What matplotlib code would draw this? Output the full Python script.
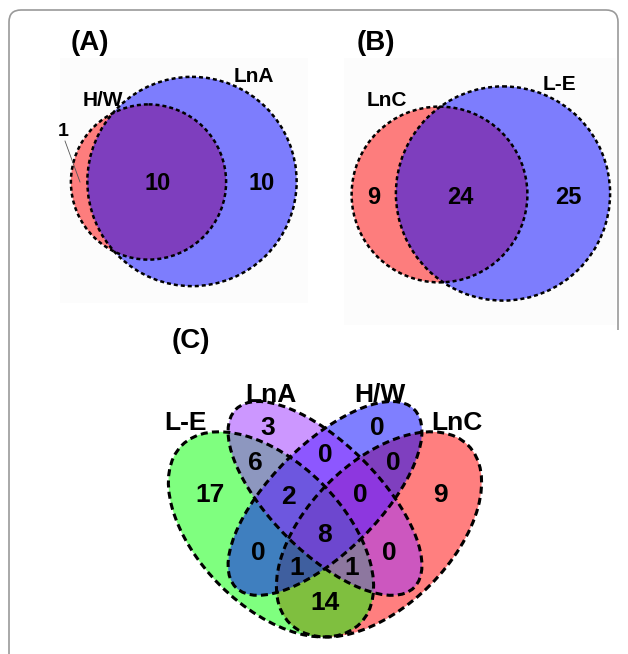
import numpy as np
import matplotlib.pyplot as plt
from matplotlib.patches import Circle, Ellipse, Rectangle, PathPatch
from matplotlib.path import Path

plt.rcParams['font.family'] = ['Liberation Sans', 'DejaVu Sans']

# (A) H/W vs LnA : only-first, both, only-second
a_names = ['H/W', 'LnA']
a_counts = [1, 10, 10]

# (B) LnC vs L-E
b_names = ['LnC', 'L-E']
b_counts = [9, 24, 25]

# (C) four sets, region key = membership in (L-E, LnA, H/W, LnC)
c_names = ['L-E', 'LnA', 'H/W', 'LnC']
c_regions = ['1000', '0100', '0010', '0001', '1100', '0011', '0110', '1110',
             '0111', '1111', '1010', '0101', '1011', '1101', '1001']
c_counts = [17, 3, 0, 9, 6, 0, 0, 2, 0, 8, 0, 0, 1, 1, 14]

RED = '#ff0000'
BLUE = '#0000ff'
GREEN = '#00ff00'
PURPLE = '#9b30ff'
DASH_AB = (0, (1.6, 1.2))
DASH_C = (0, (2.3, 1.4))

fig = plt.figure(figsize=(6.28, 6.54), dpi=100)
ax = fig.add_axes([0, 0, 1, 1])
ax.set_xlim(0, 628)
ax.set_ylim(654, 0)
ax.axis('off')

# outer frame (only top, left and the top of the right side show)
M, L, C3 = Path.MOVETO, Path.LINETO, Path.CURVE3
frame = Path([(618, 330), (618, 22), (618, 10), (606, 10), (21, 10), (9, 10), (9, 22), (9, 654)],
             [M, L, C3, C3, L, C3, C3, L])
ax.add_patch(PathPatch(frame, fill=False, edgecolor='#9a9a9a', lw=1.2))

# faint panel backgrounds
ax.add_patch(Rectangle((60, 58), 248, 245, color='#fcfcfc', lw=0))
ax.add_patch(Rectangle((344, 58), 272, 267, color='#fcfcfc', lw=0))


def two_venn(counts, names, centers, scale, colors, name_pos, num_pos, fs_num=17, fs_name=15):
    totals = [counts[0] + counts[1], counts[1] + counts[2]]
    radii = [scale * np.sqrt(t) for t in totals]
    for c, r, col in zip(centers, radii, colors):
        ax.add_patch(Circle(c, r, facecolor=col, alpha=0.5, lw=0))
    for c, r in zip(centers, radii):
        ax.add_patch(Circle(c, r, fill=False, edgecolor='black', lw=1.8, linestyle=DASH_AB))
    for n, p in zip(names, name_pos):
        ax.text(p[0], p[1], n, ha='center', va='center', fontsize=fs_name, fontweight='bold')
    for v, p in zip(counts, num_pos):
        if p is None:
            continue
        ax.text(p[0], p[1], str(v), ha='center', va='center', fontsize=fs_num, fontweight='bold')


# panel A
two_venn(a_counts, a_names, [(148.5, 182), (192, 181.5)], 23.4, [RED, BLUE],
         [(103, 100), (254, 76)], [None, (158, 183), (262, 183)])
ax.text(63, 131, str(a_counts[0]), ha='center', va='center', fontsize=14, fontweight='bold')
ax.plot([65, 80], [141, 182], color='#555555', lw=0.6)

# panel B
two_venn(b_counts, b_names, [(439.5, 194.5), (503, 193.5)], 15.3, [RED, BLUE],
         [(387, 100), (559, 85)], [(374, 197), (460, 197), (568, 197)])

# panel C: classic four-ellipse layout, unit square mapped to pixels
S = 360.0


def px(ux, uy):
    return 325 + (ux - 0.5) * S, 637 - (uy - 0.185) * S


c_shapes = {
    'L-E': ((0.35, 0.47), 0.35, 0.20, 45, GREEN),
    'LnA': ((0.50, 0.57), 0.35, 0.15, 45, PURPLE),
    'H/W': ((0.50, 0.57), 0.35, 0.15, 135, BLUE),
    'LnC': ((0.65, 0.47), 0.35, 0.20, 135, RED),
}
draw_order = ['LnC', 'L-E', 'H/W', 'LnA']
for n in draw_order:
    (ux, uy), a, b, ang, col = c_shapes[n]
    ax.add_patch(Ellipse(px(ux, uy), 2 * a * S, 2 * b * S, angle=ang, facecolor=col, alpha=0.5, lw=0))
for n in draw_order:
    (ux, uy), a, b, ang, col = c_shapes[n]
    ax.add_patch(Ellipse(px(ux, uy), 2 * a * S, 2 * b * S, angle=ang, fill=False,
                         edgecolor='black', lw=2.2, linestyle=DASH_C))

c_label_pos = {
    '1000': (210, 495), '0100': (268, 428), '0010': (377, 428), '0001': (440, 495),
    '1100': (255, 463), '0011': (393, 463), '0110': (325, 455), '1110': (288, 497),
    '0111': (360, 495), '1111': (325, 535), '1010': (258, 553), '0101': (389, 553),
    '1011': (297, 568), '1101': (352, 568), '1001': (325, 603),
}
for reg, v in zip(c_regions, c_counts):
    x, y = c_label_pos[reg]
    ax.text(x, y, str(v), ha='center', va='center', fontsize=19, fontweight='bold')

c_name_pos = {'L-E': (186, 423), 'LnA': (271, 395), 'H/W': (380, 395), 'LnC': (457, 423)}
for n in c_names:
    x, y = c_name_pos[n]
    ax.text(x, y, n, ha='center', va='center', fontsize=19, fontweight='bold')

# panel tags
for tag, pos in zip(['(A)', '(B)', '(C)'], [(90, 43), (376, 43), (191, 341)]):
    ax.text(pos[0], pos[1], tag, ha='center', va='center', fontsize=20, fontweight='bold')

fig.savefig('out.png', dpi=100)
